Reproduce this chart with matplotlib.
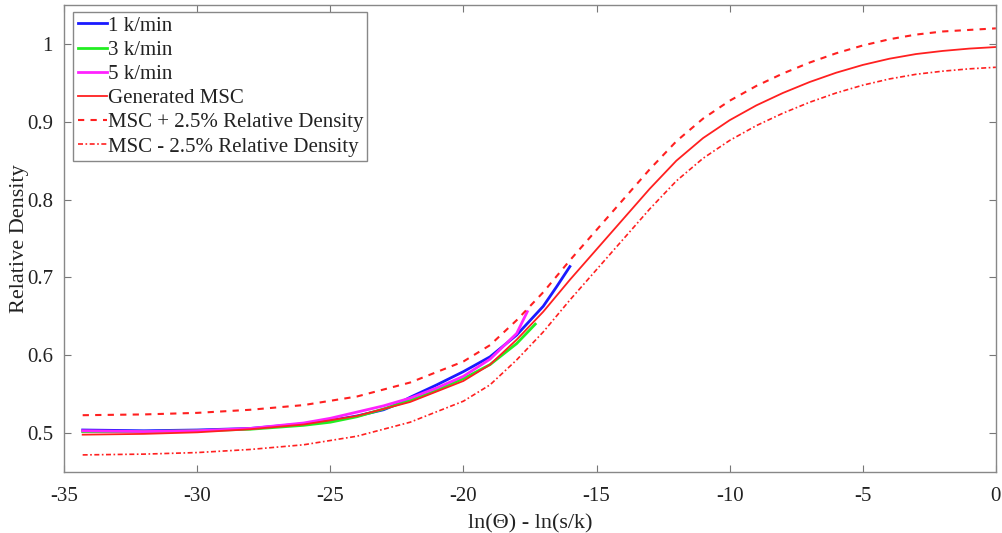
import matplotlib
matplotlib.use("Agg")
import matplotlib.pyplot as plt

# master sintering curve
msc_x = [-34.3, -32, -30, -28, -26, -24, -22, -20, -19, -18, -17, -16, -15, -14,
         -13, -12, -11, -10, -9, -8, -7, -6, -5, -4, -3, -2, -1, 0]
msc_y = [0.498, 0.499, 0.501, 0.505, 0.511, 0.522, 0.540, 0.567, 0.588, 0.620,
         0.656, 0.697, 0.736, 0.775, 0.814, 0.850, 0.879, 0.902, 0.921, 0.937,
         0.951, 0.963, 0.973, 0.981, 0.987, 0.991, 0.994, 0.996]
msc_upper = [0.523, 0.524, 0.526, 0.530, 0.536, 0.547, 0.565, 0.592, 0.613, 0.645,
             0.681, 0.722, 0.761, 0.800, 0.839, 0.875, 0.904, 0.927, 0.946, 0.962,
             0.976, 0.988, 0.998, 1.006, 1.012, 1.016, 1.018, 1.020]
msc_lower = [0.472, 0.473, 0.475, 0.479, 0.485, 0.496, 0.514, 0.541, 0.562, 0.594,
             0.630, 0.671, 0.710, 0.749, 0.788, 0.824, 0.853, 0.876, 0.895, 0.911,
             0.925, 0.937, 0.947, 0.955, 0.961, 0.965, 0.968, 0.970]

# measured heating rates
k1_x = [-34.3, -32, -30, -28, -26, -25, -24, -23.5, -23, -22.5, -22, -21, -20, -19,
        -18, -17, -16.5, -16.0]
k1_y = [0.504, 0.503, 0.504, 0.506, 0.512, 0.516, 0.522, 0.526, 0.530, 0.537, 0.546,
        0.562, 0.579, 0.598, 0.626, 0.663, 0.688, 0.714]
k3_x = [-34.3, -32, -30, -28, -26, -25, -24, -23, -22, -21, -20, -19, -18, -17.3]
k3_y = [0.502, 0.502, 0.503, 0.505, 0.510, 0.514, 0.521, 0.531, 0.542, 0.555, 0.570,
        0.588, 0.615, 0.640]
k5_x = [-34.3, -32, -30, -28, -26, -25, -24, -23, -22, -21, -20, -19, -18, -17.6]
k5_y = [0.503, 0.502, 0.503, 0.506, 0.513, 0.519, 0.527, 0.535, 0.545, 0.558, 0.573,
        0.595, 0.628, 0.656]

x_ticks = [-35, -30, -25, -20, -15, -10, -5, 0]
y_ticks = [0.5, 0.6, 0.7, 0.8, 0.9, 1.0]
y_tick_labels = ["0.5", "0.6", "0.7", "0.8", "0.9", "1"]

plt.rcParams['font.family'] = ['Liberation Serif', 'DejaVu Serif']

fig = plt.figure(figsize=(10.02, 5.33), dpi=100)
ax = fig.add_axes([0.0639, 0.1144, 0.930, 0.8762])

red = '#ff2020'
ax.plot(k1_x, k1_y, color='#1a1aff', lw=2.0, label='1 k/min')
ax.plot(k3_x, k3_y, color='#22ee22', lw=2.0, label='3 k/min')
ax.plot(k5_x, k5_y, color='#ff22ff', lw=2.0, label='5 k/min')
ax.plot(msc_x, msc_y, color=red, lw=1.3, label='Generated MSC')
ax.plot(msc_x, msc_upper, color=red, lw=1.5, dashes=(3, 3),
        label='MSC + 2.5% Relative Density')
ax.plot(msc_x, msc_lower, color=red, lw=1.2, dashes=(3, 1.5, 1, 1.5),
        label='MSC - 2.5% Relative Density')

ax.set_xlim(-35, 0)
ax.set_ylim(0.45, 1.05)
ax.set_xticks(x_ticks)
ax.set_xticklabels([str(t) for t in x_ticks])
ax.set_yticks(y_ticks)
ax.set_yticklabels(y_tick_labels)
ax.tick_params(direction='in', length=5, width=0.8, color='#777777',
               labelsize=15, labelcolor='#222222', top=True, right=True)
ax.tick_params(axis='x', pad=11)
ax.tick_params(axis='y', pad=8)
for sp in ax.spines.values():
    sp.set_color('#888888')
    sp.set_linewidth(1.0)

ax.set_xlabel('ln(\u0398) - ln(s/k)', fontsize=16, color='#222222', labelpad=6)
ax.set_ylabel('Relative Density', fontsize=16, color='#222222')
ax.yaxis.set_label_coords(-0.038, 0.5)

leg = ax.legend(loc='upper left', bbox_to_anchor=(0.01, 0.985), fontsize=15,
                handlelength=1.4, handletextpad=0.05, labelspacing=0.22,
                borderpad=0.2, borderaxespad=0.0, fancybox=False, framealpha=1)
leg.get_frame().set_edgecolor('#888888')
leg.get_frame().set_linewidth(1.0)
for t in leg.get_texts():
    t.set_color('#222222')

fig.savefig('out.png', dpi=100)
